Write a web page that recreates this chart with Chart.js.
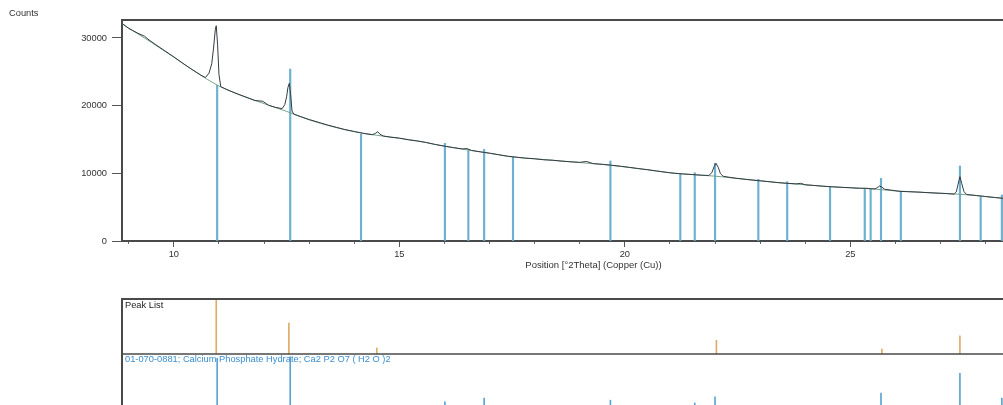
<!DOCTYPE html>
<html><head><meta charset="utf-8">
<script src="https://cdn.jsdelivr.net/npm/chart.js@4"></script>
<style>
html,body{margin:0;padding:0;background:#fff;overflow:hidden;width:1003px;height:405px;}
#c1{position:absolute;left:0;top:0;}
#c2{position:absolute;left:0;top:290px;}
</style></head><body>
<canvas id="c1" width="1070" height="290"></canvas>
<canvas id="c2" width="1070" height="125"></canvas>
<script>
// ---- axis ranges / tick labels ----
const xMin = 8.85, xMax = 29.76;
const yMin = 0, yMax = 32650;
const yTicks = [0, 10000, 20000, 30000];
const xMajorTicks = [10, 15, 20, 25];
const xMinorTicks = [9, 11, 12, 13, 14, 16, 17, 18, 19, 21, 22, 23, 24, 26, 27, 28, 29];

// ---- measured scan (Counts vs °2Theta) ----
const scanPos = [8.85, 9.0, 9.2, 9.35, 9.45, 9.6, 9.8, 10.0, 10.2, 10.4, 10.6, 10.7, 10.78, 10.84, 10.88, 10.92, 10.94, 10.97, 11.0, 11.04,
  11.2, 11.4, 11.6, 11.8, 11.97, 12.1, 12.25, 12.4, 12.46, 12.5, 12.53, 12.56, 12.59, 12.62, 12.66, 12.8, 13.0, 13.2, 13.4, 13.6, 13.8,
  14.0, 14.2, 14.4, 14.47, 14.52, 14.57, 14.65, 14.8, 15.0, 15.2, 15.4, 15.6, 15.8, 16.0, 16.2, 16.4, 16.5, 16.6, 16.8, 17.0, 17.2, 17.4,
  17.6, 17.8, 18.0, 18.2, 18.4, 18.6, 18.8, 19.0, 19.15, 19.3, 19.5, 19.7, 19.9, 20.1, 20.3, 20.5, 20.7, 20.9, 21.1, 21.3, 21.5, 21.7,
  21.86, 21.93, 21.98, 22.02, 22.07, 22.12, 22.18, 22.4, 22.6, 22.8, 23.0, 23.2, 23.4, 23.6, 23.8, 23.9, 24.0, 24.2, 24.4, 24.6, 24.8,
  25.0, 25.2, 25.35, 25.45, 25.55, 25.6, 25.65, 25.7, 25.76, 25.9, 26.1, 26.3, 26.5, 26.7, 26.9, 27.1, 27.3, 27.35, 27.39, 27.43, 27.47,
  27.52, 27.58, 27.8, 28.0, 28.2, 28.4, 28.6, 28.8, 29.0, 29.2, 29.4, 29.6, 29.76];
const scanCounts = [32150, 31400, 30700, 30250, 29700, 29000, 28100, 27200, 26250, 25350, 24500, 24150, 24800, 26200, 28500, 31300, 31800, 29000, 24600, 22800,
  22300, 21750, 21250, 20750, 20650, 20050, 19750, 19550, 20150, 21300, 22700, 23300, 21600, 19200, 18750, 18400, 17950, 17550, 17150, 16800, 16450,
  16180, 15900, 15700, 15900, 16150, 15780, 15500, 15350, 15200, 14950, 14780, 14550, 14250, 14020, 13800, 13600, 13650, 13380, 13170, 12980, 12750, 12520,
  12380, 12240, 12150, 12000, 11930, 11800, 11700, 11620, 11750, 11430, 11330, 11200, 11050, 10880, 10700, 10540, 10350, 10160, 10000, 9900, 9820, 9720,
  9680, 10100, 11000, 11480, 10900, 9950, 9560, 9330, 9170, 9020, 8900, 8760, 8620, 8520, 8440, 8520, 8310, 8200, 8090, 8000, 7930,
  7870, 7790, 7800, 7720, 7700, 7900, 8120, 7950, 7650, 7520, 7330, 7280, 7230, 7150, 7080, 7020, 6920, 7250, 8400, 9500, 8500,
  7300, 6870, 6720, 6570, 6420, 6300, 6210, 6120, 6040, 5950, 5870, 5800, 5740];

// ---- fitted background ----
const bgPos = [8.85, 9.0, 9.5, 10.0, 10.5, 11.0, 11.5, 12.0, 12.5, 13.0, 13.5, 14.0, 14.5, 15.0, 15.5, 16.0, 16.5, 17.0, 17.5, 18.0, 18.5,
  19.0, 19.5, 20.0, 20.5, 21.0, 21.5, 22.0, 22.5, 23.0, 23.5, 24.0, 24.5, 25.0, 25.5, 26.0, 26.5, 27.0, 27.5, 28.0, 28.5, 29.0, 29.5, 29.76];
const bgCounts = [32100, 31450, 29350, 27150, 24900, 22900, 21500, 20300, 19150, 17900, 16930, 16150, 15620, 15180, 14660, 14000, 13470, 12960, 12430, 12140, 11870,
  11590, 11320, 10950, 10520, 10090, 9800, 9580, 9230, 8890, 8570, 8300, 8050, 7860, 7690, 7400, 7220, 7050, 6880, 6560, 6260, 6030, 5830, 5730];

// ---- reference pattern sticks in the main plot ----
const refPos = [10.96, 12.58, 14.15, 16.01, 16.53, 16.88, 17.52, 19.68, 21.23, 21.55, 22.0, 22.96, 23.6, 24.55, 25.32, 25.45, 25.68, 26.12, 27.43, 27.89, 28.36];
const refCounts = [23000, 25400, 15760, 14430, 13440, 13540, 12450, 11820, 9900, 10090, 11480, 9110, 8760, 7930, 7780, 7640, 9260, 7280, 11080, 6540, 6800];

// ---- lower panel: peak list and reference pattern (relative heights) ----
const peakListPos = [10.94, 12.55, 14.5, 22.03, 25.7, 27.43];
const peakListRel = [1.0, 0.56, 0.11, 0.25, 0.09, 0.33];
const patternPos = [10.96, 12.58, 16.01, 16.88, 19.68, 21.55, 22.0, 25.68, 27.43, 28.36];
const patternRel = [0.92, 0.95, 0.13, 0.2, 0.16, 0.11, 0.22, 0.29, 0.65, 0.2];

const FONT = 'Liberation Sans, Arial, sans-serif';
const AXIS = '#4a4a4a';

const framePlugin = {
  id: 'frame',
  afterDraw(chart) {
    const {ctx, chartArea: a} = chart;
    ctx.save();
    ctx.strokeStyle = AXIS; ctx.lineWidth = 2;
    ctx.beginPath(); ctx.moveTo(a.left - 1, a.top); ctx.lineTo(a.right, a.top); ctx.stroke();
    ctx.fillStyle = '#333'; ctx.font = '9.3px ' + FONT; ctx.textBaseline = 'middle'; ctx.textAlign = 'left';
    ctx.fillText('Counts', 9, 13);
    ctx.restore();
  }
};

new Chart(document.getElementById('c1'), {
  type: 'line',
  data: { datasets: [
    { type: 'bar', data: refPos.map((x, i) => ({x, y: refCounts[i]})), backgroundColor: '#6db0d0', barThickness: 1.5, order: 3 },
    { data: bgPos.map((x, i) => ({x, y: bgCounts[i]})), borderColor: '#74a38a', borderWidth: 1, pointRadius: 0, cubicInterpolationMode: 'monotone', order: 2 },
    { data: scanPos.map((x, i) => ({x, y: scanCounts[i]})), borderColor: '#353b42', borderWidth: 1, pointRadius: 0, tension: 0, order: 1 }
  ]},
  options: {
    responsive: false, animation: false, events: [],
    layout: { padding: { top: 20, right: 5, left: 0, bottom: 0 } },
    plugins: { legend: { display: false }, tooltip: { enabled: false } },
    datasets: { bar: { grouped: false } },
    scales: {
      x: {
        type: 'linear', min: xMin, max: xMax, offset: false, position: 'bottom',
        afterBuildTicks: s => { s.ticks = xMajorTicks.map(v => ({value: v})); },
        ticks: { color: '#333', font: { family: FONT, size: 9.3 }, padding: 2, maxRotation: 0, autoSkip: false, callback: v => String(v) },
        grid: { drawOnChartArea: false, offset: false, tickLength: 6, tickColor: '#555', tickWidth: 1 },
        border: { color: AXIS, width: 2 },
        title: { display: true, text: 'Position [°2Theta] (Copper (Cu))', color: '#333', font: { family: FONT, size: 9.5 }, padding: { top: 0, bottom: 19 } },
        afterFit: s => { s.height = 49; }
      },
      xMinor: {
        type: 'linear', min: xMin, max: xMax, offset: false, position: { y: 0 },
        afterBuildTicks: s => { s.ticks = xMinorTicks.map(v => ({value: v})); },
        ticks: { display: false },
        grid: { drawOnChartArea: false, offset: false, tickLength: 3, tickColor: '#666', tickWidth: 1 },
        border: { display: false }
      },
      y: {
        type: 'linear', min: yMin, max: yMax,
        afterBuildTicks: s => { s.ticks = yTicks.map(v => ({value: v})); },
        ticks: { color: '#333', font: { family: FONT, size: 9.3 }, padding: 5, callback: v => String(v) },
        grid: { drawOnChartArea: false, tickLength: 10, tickColor: '#555', tickWidth: 1 },
        border: { color: AXIS, width: 2 },
        afterFit: s => { s.width = 122; }
      }
    }
  },
  plugins: [framePlugin]
});

const panelPlugin = {
  id: 'panel',
  afterDatasetsDraw(chart) {
    const {ctx, chartArea: a, scales} = chart;
    const mid = scales.y.getPixelForValue(1);
    ctx.save();
    ctx.strokeStyle = AXIS; ctx.lineWidth = 2;
    ctx.beginPath();
    ctx.moveTo(a.left, a.bottom + 10); ctx.lineTo(a.left, a.top);
    ctx.lineTo(a.right, a.top);
    ctx.stroke();
    ctx.lineWidth = 1.5;
    ctx.beginPath(); ctx.moveTo(a.left, mid); ctx.lineTo(a.right, mid); ctx.stroke();
    ctx.font = '9.3px ' + FONT; ctx.textBaseline = 'middle'; ctx.textAlign = 'left';
    ctx.fillStyle = '#222';
    ctx.fillText('Peak List', a.left + 3, a.top + 6);
    ctx.fillStyle = '#3b8ed0';
    ctx.fillText('01-070-0881; Calcium Phosphate Hydrate; Ca2 P2 O7 ( H2 O )2', a.left + 3, mid + 5);
    ctx.restore();
  }
};

new Chart(document.getElementById('c2'), {
  type: 'bar',
  data: { datasets: [
    { data: peakListPos.map((x, i) => ({x, y: [1, 1 + peakListRel[i]]})), backgroundColor: '#e0ad66', barThickness: 1 },
    { data: patternPos.map((x, i) => ({x, y: [0, patternRel[i]]})), backgroundColor: '#5aa4d4', barThickness: 1 }
  ]},
  options: {
    responsive: false, animation: false, events: [],
    layout: { padding: { left: 122, top: 9, right: 5, bottom: 6 } },
    plugins: { legend: { display: false }, tooltip: { enabled: false } },
    datasets: { bar: { grouped: false } },
    scales: {
      x: { type: 'linear', display: false, min: xMin, max: xMax, offset: false, grid: { offset: false } },
      y: { type: 'linear', display: false, min: 0, max: 2 }
    }
  },
  plugins: [panelPlugin]
});
</script>
</body></html>
